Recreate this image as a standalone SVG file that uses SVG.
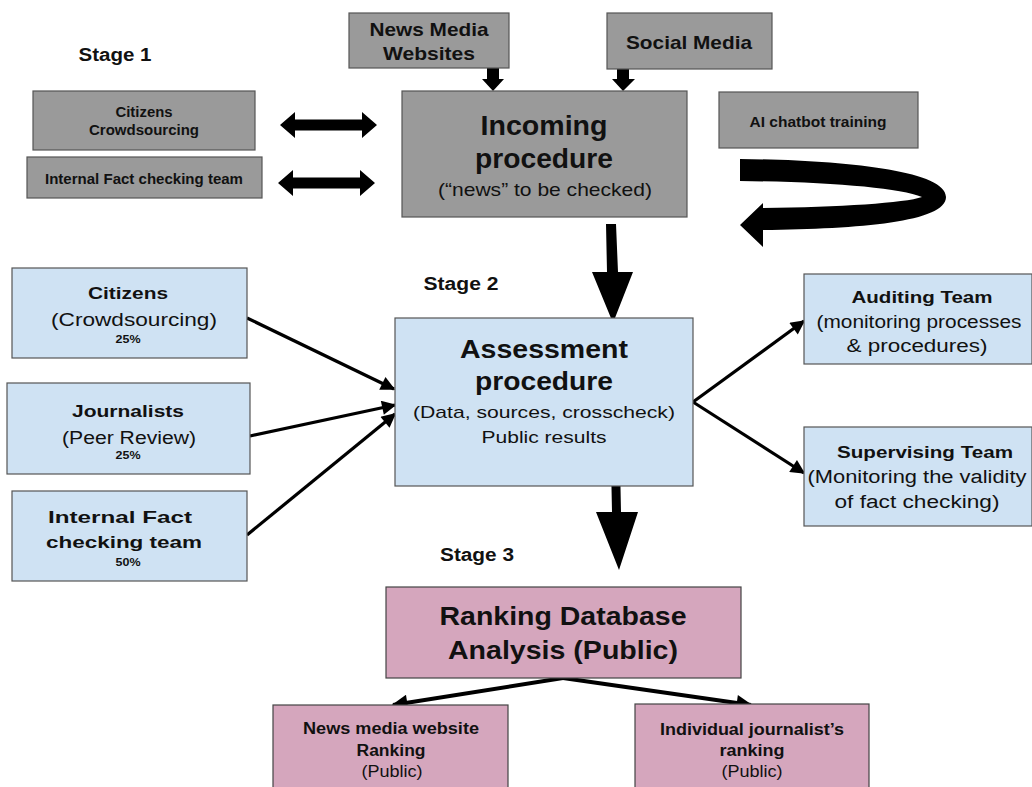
<svg xmlns="http://www.w3.org/2000/svg" width="1032" height="787" viewBox="0 0 1032 787">
<defs>
<style>
text{font-family:"Liberation Sans",Arial,sans-serif;fill:#111;text-anchor:middle}
.b{font-weight:bold}
.gray{fill:#9a9a9a;stroke:#555;stroke-width:1.2}
.blue{fill:#cfe2f3;stroke:#555;stroke-width:1.2}
.pink{fill:#d5a6bd;stroke:#444;stroke-width:1.2}
.thin{stroke:#000;stroke-width:3.2;fill:none}
.thick{stroke:#000;stroke-width:4;fill:none}
</style>
<marker id="ah" viewBox="0 0 10 10" refX="9" refY="5" markerWidth="6" markerHeight="4.5" orient="auto" markerUnits="strokeWidth">
<path d="M0,0 L10,5 L0,10 Z" fill="#000"/>
</marker>
<marker id="ah2" viewBox="0 0 10 10" refX="9" refY="5" markerWidth="6" markerHeight="4" orient="auto" markerUnits="strokeWidth">
<path d="M0,0 L10,5 L0,10 Z" fill="#000"/>
</marker>
</defs>
<rect width="1032" height="787" fill="#fff"/>

<text class="b" x="115" y="61" font-size="18" textLength="73" lengthAdjust="spacingAndGlyphs">Stage 1</text>
<text class="b" x="461" y="290" font-size="18" textLength="75" lengthAdjust="spacingAndGlyphs">Stage 2</text>
<text class="b" x="477" y="561" font-size="18" textLength="74" lengthAdjust="spacingAndGlyphs">Stage 3</text>

<g id="connectors">
<path d="M280,125 L295,112 L295,119.5 L362,119.5 L362,112 L377,125 L362,138 L362,130.5 L295,130.5 L295,138 Z" fill="#000"/>
<path d="M278,183 L293,170 L293,177.5 L360,177.5 L360,170 L375,183 L360,196 L360,188.5 L293,188.5 L293,196 Z" fill="#000"/>
<path d="M487,66 L499,66 L499,79 L504,79 L493,91 L482,79 L487,79 Z" fill="#000"/>
<path d="M617,66 L629,66 L629,79 L635,79 L623,91 L612,79 L617,79 Z" fill="#000"/>
<path d="M740,159 C 840,160 946,170 946,197 C 946,222 860,229 763,230 L763,247 L740,225 L763,203 L763,208 C 840,207 905,203 922,197 C 900,188 830,182 740,181 Z" fill="#000"/>
<path d="M606,224 L616,224 L618,272 L633,272 L613,323 L592,272 L607,272 Z" fill="#000"/>
<path d="M611,463 L620,463 L621,512 L638,512 L619,570 L596,512 L612,512 Z" fill="#000"/>
<path class="thin" d="M247,318 L394,389" marker-end="url(#ah)"/>
<path class="thin" d="M250,436 L395,405" marker-end="url(#ah)"/>
<path class="thin" d="M247,535 L395,414" marker-end="url(#ah)"/>
<path class="thin" d="M693,402 L804,321" marker-end="url(#ah)"/>
<path class="thin" d="M693,402 L804,473" marker-end="url(#ah)"/>
<path class="thick" d="M563,678 L393,705" marker-end="url(#ah2)"/>
<path class="thick" d="M563,678 L751,705" marker-end="url(#ah2)"/>
</g>

<g id="news-media-websites">
<rect class="gray" x="349" y="13" width="160" height="55"/>
<text class="b" x="429" y="36" font-size="19" textLength="119" lengthAdjust="spacingAndGlyphs">News Media</text>
<text class="b" x="429" y="60" font-size="19" textLength="92" lengthAdjust="spacingAndGlyphs">Websites</text>
</g>
<g id="social-media">
<rect class="gray" x="607" y="13" width="165" height="56"/>
<text class="b" x="689" y="49" font-size="19" textLength="126" lengthAdjust="spacingAndGlyphs">Social Media</text>
</g>
<g id="incoming-procedure">
<rect class="gray" x="402" y="91" width="285" height="126"/>
<text class="b" x="544" y="135" font-size="27" textLength="127" lengthAdjust="spacingAndGlyphs">Incoming</text>
<text class="b" x="544" y="168" font-size="27" textLength="138" lengthAdjust="spacingAndGlyphs">procedure</text>
<text x="545" y="196" font-size="19" textLength="214" lengthAdjust="spacingAndGlyphs">(“news” to be checked)</text>
</g>
<g id="citizens-crowdsourcing-1">
<rect class="gray" x="33" y="91" width="222" height="59"/>
<text class="b" x="144" y="117" font-size="14" textLength="57" lengthAdjust="spacingAndGlyphs">Citizens</text>
<text class="b" x="144" y="135" font-size="14" textLength="110" lengthAdjust="spacingAndGlyphs">Crowdsourcing</text>
</g>
<g id="internal-fact-checking-1">
<rect class="gray" x="27" y="157" width="235" height="41"/>
<text class="b" x="144" y="184" font-size="14" textLength="198" lengthAdjust="spacingAndGlyphs">Internal Fact checking team</text>
</g>
<g id="ai-chatbot-training">
<rect class="gray" x="719" y="92" width="199" height="56"/>
<text class="b" x="818" y="127" font-size="14" textLength="137" lengthAdjust="spacingAndGlyphs">AI chatbot  training</text>
</g>

<g id="citizens-2">
<rect class="blue" x="12" y="268" width="235" height="90"/>
<text class="b" x="128" y="299" font-size="17" textLength="80" lengthAdjust="spacingAndGlyphs">Citizens</text>
<text x="134" y="326" font-size="18" textLength="166" lengthAdjust="spacingAndGlyphs">(Crowdsourcing)</text>
<text class="b" x="128" y="343" font-size="10" textLength="25" lengthAdjust="spacingAndGlyphs">25%</text>
</g>
<g id="journalists">
<rect class="blue" x="7" y="383" width="243" height="91"/>
<text class="b" x="128" y="417" font-size="17" textLength="112" lengthAdjust="spacingAndGlyphs">Journalists</text>
<text x="129" y="444" font-size="18" textLength="134" lengthAdjust="spacingAndGlyphs">(Peer Review)</text>
<text class="b" x="128" y="459" font-size="10" textLength="25" lengthAdjust="spacingAndGlyphs">25%</text>
</g>
<g id="internal-fact-checking-2">
<rect class="blue" x="12" y="491" width="235" height="90"/>
<text class="b" x="120" y="523" font-size="17" textLength="144" lengthAdjust="spacingAndGlyphs">Internal Fact</text>
<text class="b" x="124" y="548" font-size="17" textLength="156" lengthAdjust="spacingAndGlyphs">checking team</text>
<text class="b" x="128" y="566" font-size="10" textLength="25" lengthAdjust="spacingAndGlyphs">50%</text>
</g>
<g id="assessment-procedure">
<rect class="blue" x="395" y="318" width="298" height="168"/>
<text class="b" x="544" y="358" font-size="25" textLength="168" lengthAdjust="spacingAndGlyphs">Assessment</text>
<text class="b" x="544" y="390" font-size="25" textLength="138" lengthAdjust="spacingAndGlyphs">procedure</text>
<text x="544" y="418" font-size="17" textLength="262" lengthAdjust="spacingAndGlyphs">(Data, sources, crosscheck)</text>
<text x="544" y="443" font-size="17" textLength="125" lengthAdjust="spacingAndGlyphs">Public results</text>
</g>
<g id="auditing-team">
<rect class="blue" x="804" y="274" width="228" height="90"/>
<text class="b" x="922" y="303" font-size="17" textLength="141" lengthAdjust="spacingAndGlyphs">Auditing Team</text>
<text x="919" y="328" font-size="18" textLength="205" lengthAdjust="spacingAndGlyphs">(monitoring processes</text>
<text x="917" y="352" font-size="18" textLength="141" lengthAdjust="spacingAndGlyphs">&amp; procedures)</text>
</g>
<g id="supervising-team">
<rect class="blue" x="804" y="427" width="228" height="99"/>
<text class="b" x="925" y="458" font-size="17" textLength="176" lengthAdjust="spacingAndGlyphs">Supervising Team</text>
<text x="917" y="483" font-size="18" textLength="219" lengthAdjust="spacingAndGlyphs">(Monitoring the validity</text>
<text x="917" y="508" font-size="18" textLength="165" lengthAdjust="spacingAndGlyphs">of fact checking)</text>
</g>

<g id="ranking-database">
<rect class="pink" x="386" y="587" width="355" height="91"/>
<text class="b" x="563" y="625" font-size="25" textLength="247" lengthAdjust="spacingAndGlyphs">Ranking Database</text>
<text class="b" x="563" y="659" font-size="25" textLength="230" lengthAdjust="spacingAndGlyphs">Analysis (Public)</text>
</g>
<g id="news-media-ranking">
<rect class="pink" x="273" y="705" width="235" height="90"/>
<text class="b" x="391" y="734" font-size="16" textLength="176" lengthAdjust="spacingAndGlyphs">News media website</text>
<text class="b" x="391" y="756" font-size="16" textLength="69" lengthAdjust="spacingAndGlyphs">Ranking</text>
<text x="392" y="777" font-size="16" textLength="61" lengthAdjust="spacingAndGlyphs">(Public)</text>
</g>
<g id="journalist-ranking">
<rect class="pink" x="635" y="704" width="234" height="90"/>
<text class="b" x="752" y="735" font-size="16" textLength="184" lengthAdjust="spacingAndGlyphs">Individual journalist’s</text>
<text class="b" x="752" y="756" font-size="16" textLength="65" lengthAdjust="spacingAndGlyphs">ranking</text>
<text x="752" y="777" font-size="16" textLength="61" lengthAdjust="spacingAndGlyphs">(Public)</text>
</g>
</svg>
